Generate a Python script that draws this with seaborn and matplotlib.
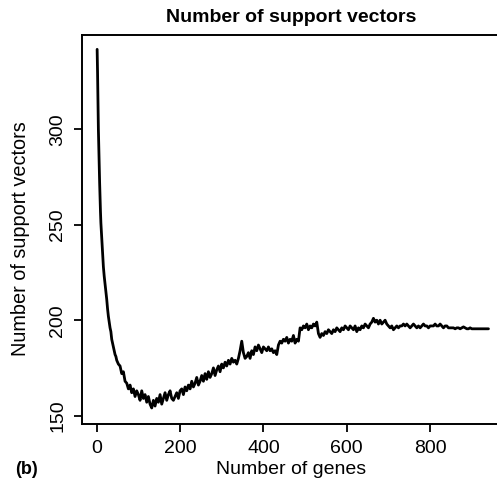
import matplotlib
matplotlib.use("Agg")
import matplotlib.pyplot as plt
import seaborn as sns
import pandas as pd

early_genes = [1, 2, 3, 4, 5, 6, 7, 8, 9, 10, 12, 14, 16, 18, 20, 22, 24, 26,
               28, 30, 32, 34, 36, 38, 40, 42, 44, 46, 48]
early_sv = [342, 330, 314, 300, 290, 280, 272, 264, 257, 251, 243, 235, 228,
            223, 219, 215, 211, 206, 202, 199, 196, 194, 190, 188, 186, 184,
            182, 181, 179]
late_genes = list(range(52, 941, 4))
late_sv = [
    177, 176, 172, 173, 168, 167, 164, 166, 162, 164,
    160, 163, 161, 158, 163, 159, 161, 157, 160, 156,
    154, 158, 155, 159, 157, 161, 156, 159, 162, 158,
    161, 163, 159, 158, 160, 162, 159, 163, 164, 161,
    165, 163, 166, 164, 168, 165, 167, 170, 166, 168,
    171, 168, 172, 169, 173, 170, 172, 175, 171, 174,
    176, 173, 177, 175, 178, 176, 179, 177, 180, 178,
    179, 177, 180, 184, 189, 183, 180, 181, 183, 180,
    184, 182, 186, 184, 187, 185, 183, 186, 185, 184,
    186, 184, 185, 183, 184, 182, 187, 189, 188, 190,
    189, 191, 188, 190, 189, 192, 188, 190, 189, 196,
    195, 197, 196, 198, 195, 197, 196, 198, 197, 199,
    193, 191, 193, 192, 194, 193, 195, 194, 193, 195,
    194, 196, 195, 194, 196, 195, 197, 196, 195, 197,
    196, 195, 197, 194, 196, 195, 197, 196, 198, 197,
    196, 198, 199, 201, 199, 200, 198, 200, 198, 199,
    200, 198, 197, 196, 197, 195, 196, 197, 196, 197,
    197, 198, 197, 198, 197, 196, 197, 198, 197, 196,
    197, 196, 197, 198, 197, 197, 196, 197, 197, 197,
    198, 197, 197, 198, 197, 196, 197, 197, 196, 196,
    196, 196, 195.5, 196, 196, 195.5, 196, 196.5, 196, 195.5,
    195.5, 196, 195.5, 195.5, 195.5, 195.5, 195.5, 195.5, 195.5, 195.5,
    195.5, 195.5, 195.5,
]
genes = early_genes + late_genes
support_vectors = early_sv + late_sv

x_ticks = [0, 200, 400, 600, 800]
y_ticks = [150, 200, 250, 300]

title = "Number of support vectors"
x_label = "Number of genes"
y_label = "Number of support vectors"
panel = "(b)"

sns.set_theme(style="ticks")
plt.rcParams["font.family"] = ["Liberation Sans", "DejaVu Sans"]
plt.rcParams["text.color"] = "black"
plt.rcParams["xtick.color"] = "black"
plt.rcParams["ytick.color"] = "black"
plt.rcParams["axes.labelcolor"] = "black"

fig = plt.figure(figsize=(4.97, 4.84), dpi=100)
ax = fig.add_axes([0.165, 0.124, 0.843, 0.804])

df = pd.DataFrame({"genes": genes, "sv": support_vectors})
sns.lineplot(data=df, x="genes", y="sv", ax=ax, color="black", linewidth=2.0)

ax.set_xlim(-35.3, 970)
ax.set_ylim(145.6, 349.6)
ax.set_xticks(x_ticks)
ax.set_yticks(y_ticks)
ax.set_xticklabels([str(t) for t in x_ticks], fontsize=14, color="black")
ax.set_yticklabels([str(t) for t in y_ticks], fontsize=14, rotation=90,
                   va="center", color="black")
ax.tick_params(axis="both", direction="out", length=5.5, width=1.3,
               color="black", labelcolor="black")
ax.tick_params(axis="x", pad=6)
ax.tick_params(axis="y", pad=6)
for side in ["left", "bottom", "top"]:
    ax.spines[side].set_visible(True)
    ax.spines[side].set_color("black")
    ax.spines[side].set_linewidth(1.4)
ax.spines["right"].set_visible(False)
ax.set_xlabel("")
ax.set_ylabel("")

fig.text(0.586, 1 - 17 / 484, title, ha="center", va="center",
         fontsize=14, fontweight="bold", color="black")
fig.text(0.586, 1 - 469 / 484, x_label, ha="center", va="center",
         fontsize=14, color="black")
fig.text(21 / 497, 1 - 239 / 484, y_label, ha="center", va="center",
         fontsize=14.3, rotation=90, color="black")
fig.text(15 / 497, 1 - 469 / 484, panel, ha="left", va="center",
         fontsize=13, fontweight="bold", color="black")

fig.savefig("out.png", dpi=100)
